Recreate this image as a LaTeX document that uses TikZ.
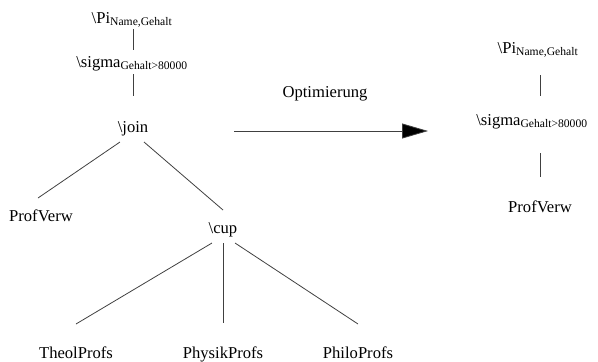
\documentclass[tikz,border=0pt]{standalone}
\usepackage{fontspec}
\setmainfont{Liberation Serif}
\usetikzlibrary{calc,arrows.meta}
\begin{document}
\begin{tikzpicture}[x=1pt,y=-1pt,
  label/.style={inner sep=0pt,anchor=base,font=\fontsize{16.6}{20}\selectfont},
  edge/.style={draw=black!75,line width=0.8pt}]
\useasboundingbox (0,0) rectangle (598,362);
% original query plan
\node[label] (pi1)  at (132,23)  {\textbackslash Pi\textsubscript{Name,Gehalt}};
\node[label] (sig1) at (132,67)  {\textbackslash sigma\textsubscript{Gehalt>80000}};
\node[label] (join) at (133,132) {\textbackslash join};
\node[label] (prof1) at (41,221) {ProfVerw};
\node[label] (cup)  at (223,233) {\textbackslash cup};
\node[label] (theol) at (76,358) {TheolProfs};
\node[label] (physik) at (223,358) {PhysikProfs};
\node[label] (philo) at (358,358) {PhiloProfs};
\draw[edge] ($(pi1.base)+(1,6)$) -- ($(sig1.base)+(1,-17)$);
\draw[edge] ($(sig1.base)+(1,7)$) -- ($(join.base)+(0,-36)$);
\draw[edge] ($(join.base)+(-13,10)$) -- ($(prof1.base)+(-3,-23)$);
\draw[edge] ($(join.base)+(11,10)$) -- ($(cup.base)+(0,-23)$);
\draw[edge] ($(cup.base)+(-11,10)$) -- ($(theol.base)+(0,-34)$);
\draw[edge] ($(cup.base)+(0,10)$) -- ($(physik.base)+(0,-35)$);
\draw[edge] ($(cup.base)+(12,10)$) -- ($(philo.base)+(0,-34)$);
% optimisation step
\node[label] (opt) at (325,97) {Optimierung};
\coordinate (arrS) at (234,131);
\coordinate (arrE) at (428,131);
\draw[edge,-{Triangle[length=26pt,width=15pt,fill=black]}] (arrS) -- (arrE);
% optimised query plan
\node[label] (pi2)  at (538,53)  {\textbackslash Pi\textsubscript{Name,Gehalt}};
\node[label] (sig2) at (532,125) {\textbackslash sigma\textsubscript{Gehalt>80000}};
\node[label] (prof2) at (540,212) {ProfVerw};
\draw[edge] ($(pi2.base)+(2,22)$) -- ($(sig2.base)+(8,-29)$);
\draw[edge] ($(sig2.base)+(8,28)$) -- ($(prof2.base)+(0,-35)$);
\end{tikzpicture}
\end{document}
